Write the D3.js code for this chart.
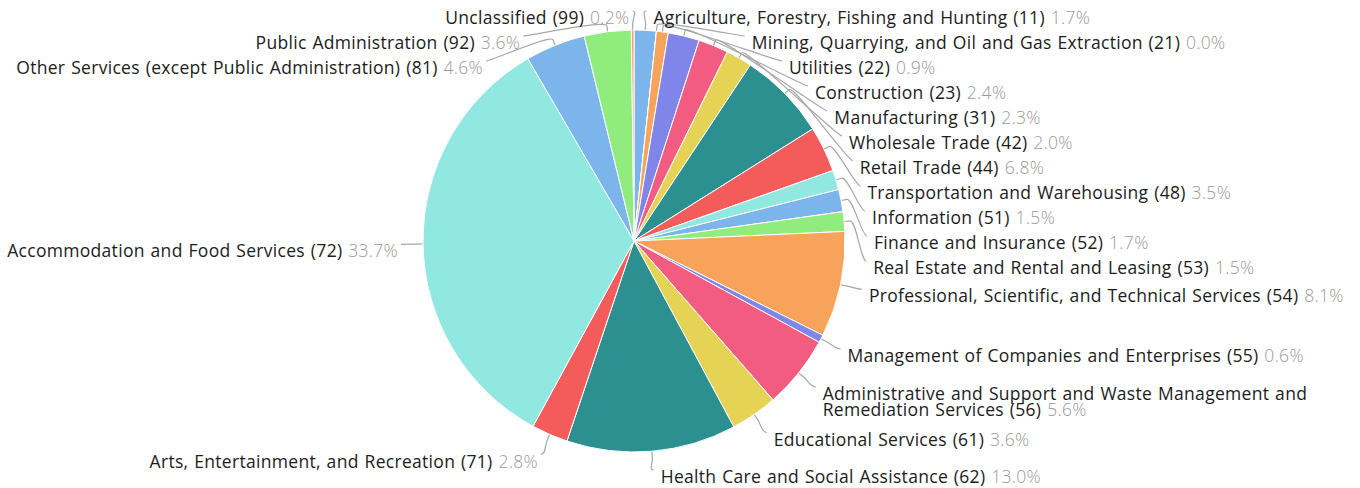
<!DOCTYPE html>
<html>
<head>
<meta charset="utf-8">
<script src="https://cdn.jsdelivr.net/npm/d3@7"></script>
<style>
html,body{margin:0;padding:0;background:#fff;}
svg{display:block;}
</style>
</head>
<body>
<svg id="chart" width="1360" height="488"></svg>
<script>
// ---- data ----
const categories = [
  "Agriculture, Forestry, Fishing and Hunting",
  "Mining, Quarrying, and Oil and Gas Extraction",
  "Utilities",
  "Construction",
  "Manufacturing",
  "Wholesale Trade",
  "Retail Trade",
  "Transportation and Warehousing",
  "Information",
  "Finance and Insurance",
  "Real Estate and Rental and Leasing",
  "Professional, Scientific, and Technical Services",
  "Management of Companies and Enterprises",
  "Administrative and Support and Waste Management and Remediation Services",
  "Educational Services",
  "Health Care and Social Assistance",
  "Arts, Entertainment, and Recreation",
  "Accommodation and Food Services",
  "Other Services (except Public Administration)",
  "Public Administration",
  "Unclassified"
];
const codes = ["11","21","22","23","31","42","44","48","51","52","53","54","55","56","61","62","71","72","81","92","99"];
const shares = [1.7,0.0,0.9,2.4,2.3,2.0,6.8,3.5,1.5,1.7,1.5,8.1,0.6,5.6,3.6,13.0,2.8,33.7,4.6,3.6,0.2];
const palette = ["#7cb5ec","#90ed7d","#f7a35c","#8085e9","#f15c80","#e4d354","#2b908f","#f45b5b","#91e8e1"];

// ---- layout ----
const W = 1360, H = 488;
const cx = 634, cy = 241, r = 211;
const labelDist = 22, breakOff = 6, padRight = 7, padLeft = 3;
const lineH = 25, wrapLineH = 16;
const topLim = 11, bottomLim = 470;
const R = r + labelDist;
const FONT = "'Open Sans', Lato, sans-serif";
const FS = 17.5, LS = 0.3, WS = 1;

const svg = d3.select("#chart");
const data = categories.map((c, i) => ({name: c, code: codes[i], value: shares[i], color: palette[i % palette.length]}));
const pie = d3.pie().sort(null).value(d => d.value);
const arcs = pie(data);
const arc = d3.arc().innerRadius(0).outerRadius(r);

const connG = svg.append("g");
const pieG = svg.append("g").attr("transform", `translate(${cx},${cy})`);
pieG.selectAll("path").data(arcs).join("path")
  .attr("d", arc)
  .attr("fill", d => d.data.color)
  .attr("stroke", "#fff")
  .attr("stroke-width", 1)
  .attr("stroke-linejoin", "round");

const labG = svg.append("g");

arcs.forEach(a => {
  a.mid = (a.startAngle + a.endAngle) / 2;
  a.right = a.mid < Math.PI;
  a.ny = cy - R * Math.cos(a.mid);
  a.lines = 1;
});

function distribute(list) {
  list.sort((a, b) => a.ny - b.ny);
  let prev = -Infinity;
  list.forEach(a => { a.y = Math.max(a.ny, topLim, prev); prev = a.y + a.h; });
  let next = Infinity;
  for (let i = list.length - 1; i >= 0; i--) {
    const a = list[i];
    a.y = Math.min(a.y, next - a.h, bottomLim - (a.h - lineH));
    next = a.y;
  }
  prev = -Infinity;
  list.forEach(a => { a.y = Math.max(a.y, topLim, prev); prev = a.y + a.h; });
  list.forEach(a => {
    const useNatural = (a.y <= topLim + 2 && a.ny < a.y) || (a.y >= bottomLim - 2 && a.ny > a.y);
    const yy = useNatural ? a.ny : a.y;
    const dy = Math.max(-R, Math.min(R, yy - cy));
    const dx = Math.sqrt(R * R - dy * dy);
    a.x = cx + (a.right ? dx : -dx);
  });
}

function layout() {
  arcs.forEach(a => { a.h = lineH + (a.lines - 1) * wrapLineH; });
  distribute(arcs.filter(a => a.right));
  distribute(arcs.filter(a => !a.right));
}

function styleText(sel) {
  return sel.attr("font-family", FONT).attr("font-size", FS)
    .attr("letter-spacing", LS).attr("word-spacing", WS);
}

const measure = styleText(labG.append("text")).attr("visibility", "hidden");
function textW(str, weight) {
  measure.attr("font-weight", weight).text(str);
  return measure.node().getComputedTextLength();
}

function wrapLabel(a) {
  const main = `${a.data.name} (${a.data.code})`;
  const pct = ` ${a.data.value.toFixed(1)}%`;
  const tx = a.right ? a.x + padRight : a.x - padLeft;
  const maxW = a.right ? (W - 4 - tx) : (tx - 4);
  const words = main.split(" ");
  const lines = [];
  let cur = "";
  const pctW = textW(pct, 300);
  words.forEach((w, i) => {
    const test = cur ? cur + " " + w : w;
    const extra = (i === words.length - 1) ? pctW : 0;
    if (cur && textW(test, 400) + extra > maxW) { lines.push(cur); cur = w; }
    else cur = test;
  });
  lines.push(cur);
  return {lines, pct};
}

layout();
arcs.forEach(a => { a.wrap = wrapLabel(a); a.lines = a.wrap.lines.length; });
layout();
arcs.forEach(a => { a.wrap = wrapLabel(a); });
measure.remove();

// connectors
connG.selectAll("path").data(arcs).join("path")
  .attr("d", a => {
    const s = Math.sin(a.mid), c = -Math.cos(a.mid);
    const tX = cx + r * s, tY = cy + r * c;
    const bX = cx + (r + breakOff) * s, bY = cy + (r + breakOff) * c;
    const c2X = 2 * bX - tX, c2Y = 2 * bY - tY;
    const c1X = a.x + (a.right ? -5 : 5);
    const p = d3.path();
    p.moveTo(a.x, a.y);
    p.bezierCurveTo(c1X, a.y, c2X, c2Y, bX, bY);
    p.lineTo(tX, tY);
    return p.toString();
  })
  .attr("fill", "none")
  .attr("stroke", "#a6a6a6")
  .attr("stroke-width", 1.2);

// labels
arcs.forEach(a => {
  const t = styleText(labG.append("text"))
    .attr("text-anchor", a.right ? "start" : "end")
    .attr("fill", "#1c1c1c");
  const tx = a.right ? a.x + padRight : a.x - padLeft;
  const lines = a.wrap.lines;
  lines.forEach((ln, i) => {
    t.append("tspan")
      .attr("x", tx)
      .attr("y", a.y + 13 + i * wrapLineH)
      .text(ln);
    if (i === lines.length - 1) {
      t.append("tspan")
        .attr("fill", "#9a9a9a")
        .attr("font-weight", 300)
        .text(a.wrap.pct);
    }
  });
});
</script>
</body>
</html>
